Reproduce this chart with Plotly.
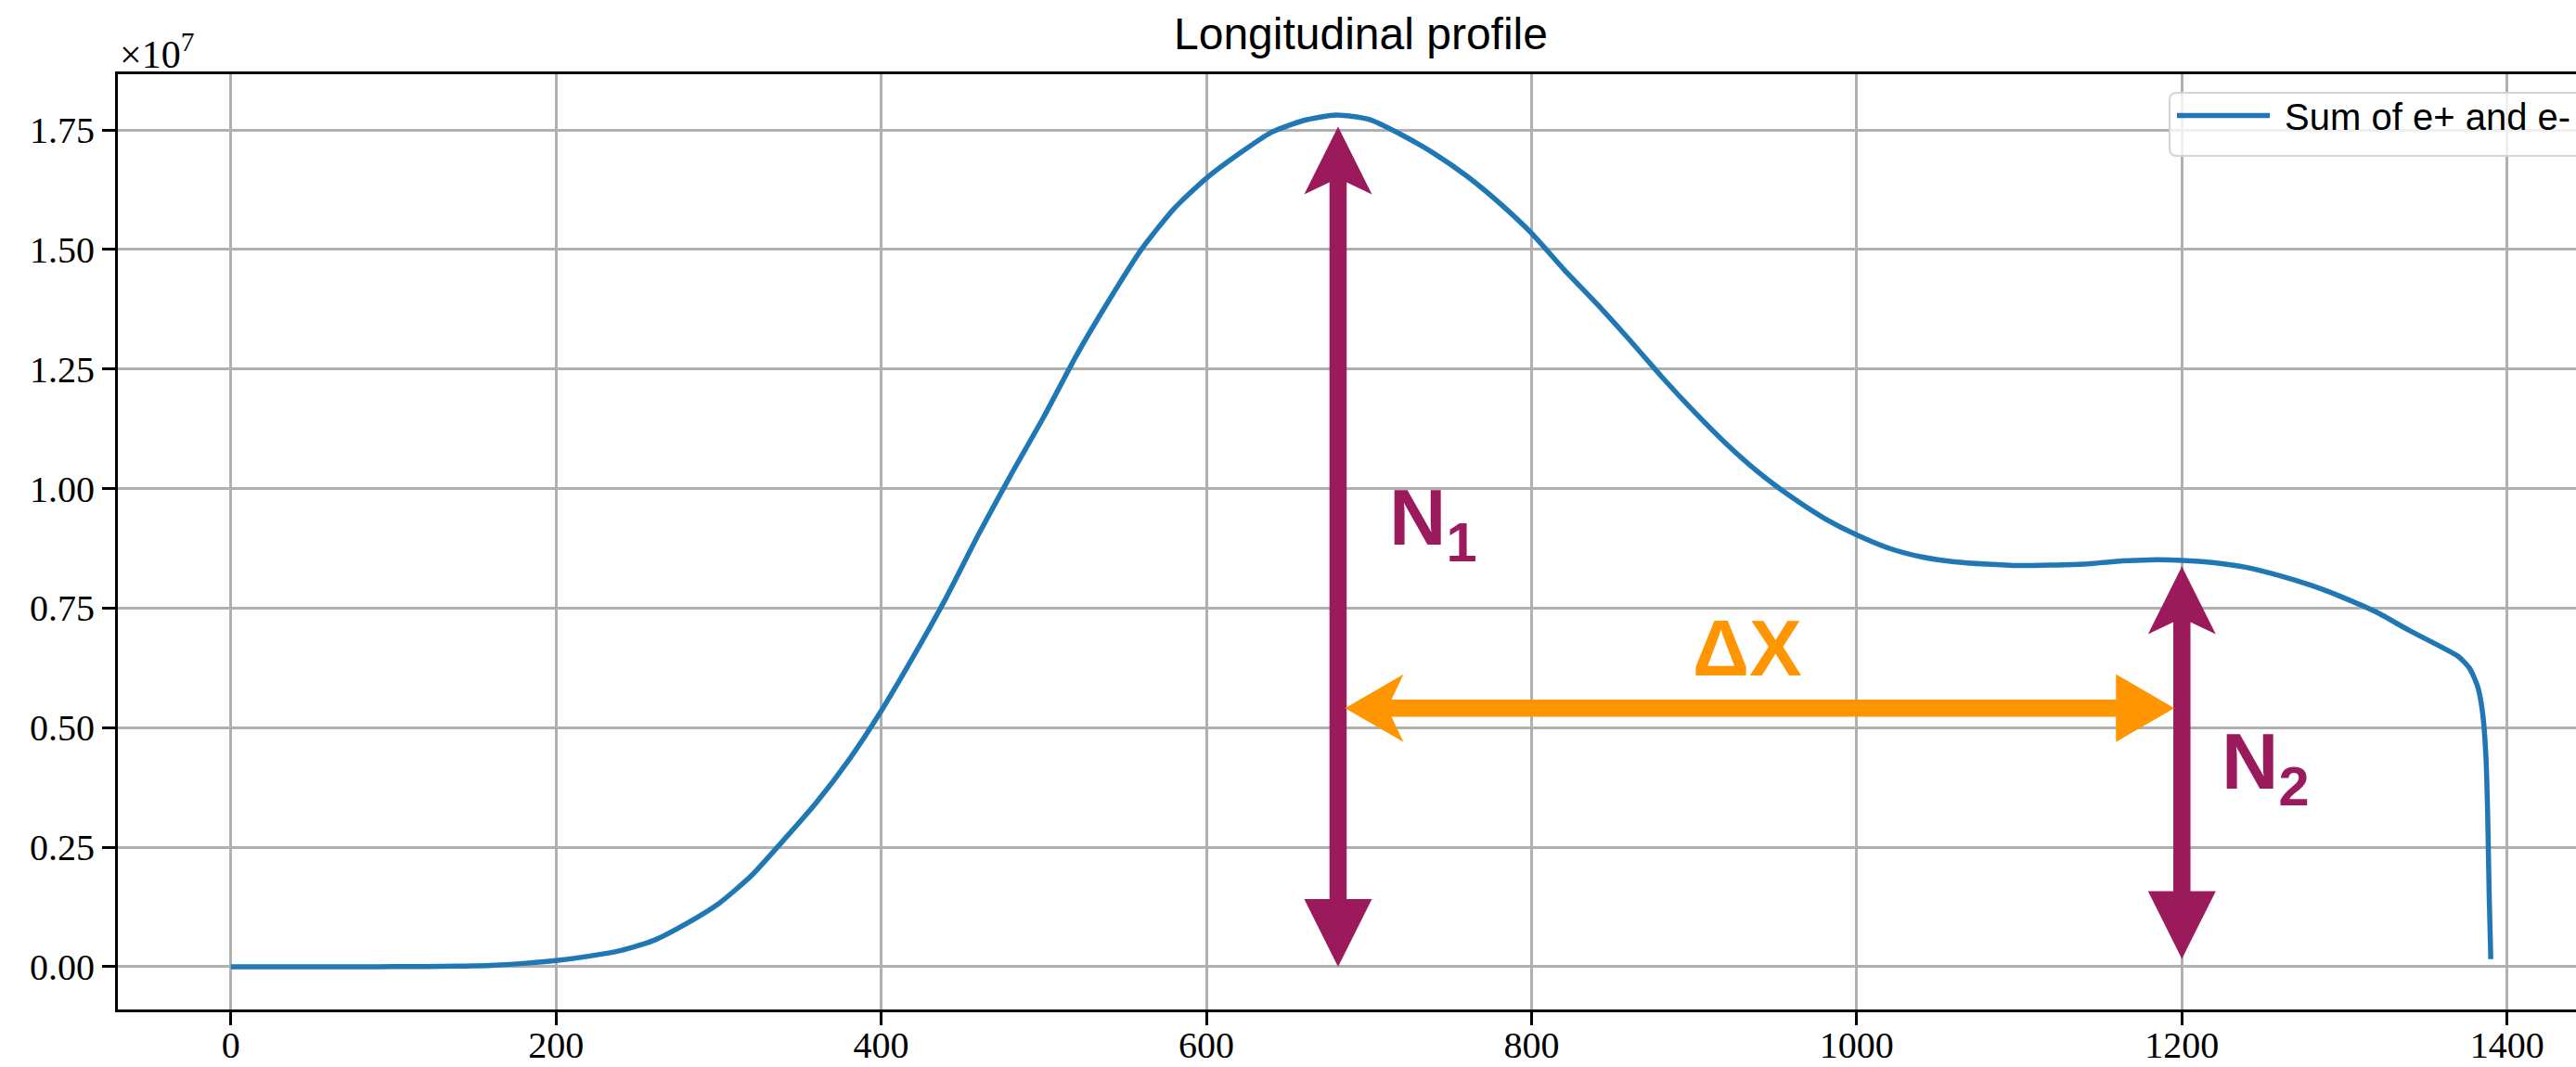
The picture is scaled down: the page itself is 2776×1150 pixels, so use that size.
import plotly.graph_objects as go

# ---- figure geometry (pixels) ----
FIG_W, FIG_H = 2776, 1150
MARGIN_L, MARGIN_R, MARGIN_T, MARGIN_B = 127, 0, 80, 62
PLOT_W = FIG_W - MARGIN_L - MARGIN_R
PLOT_H = FIG_H - MARGIN_T - MARGIN_B

Y_SCALE = 1e7  # values below are stored in units of 1e7 particles

# ---- longitudinal profile: depth vs number of e+ and e- (x 1e7) ----
depth = [0, 20, 40, 60, 80, 100, 120, 140, 160, 180,
         200, 220, 240, 260, 280, 300, 320, 340, 360, 380,
         400, 420, 440, 460, 480, 500, 520, 540, 560, 580,
         600, 620, 640, 660, 680, 700, 720, 740, 760, 780,
         800, 820, 840, 860, 880, 900, 920, 940, 960, 980,
         1000, 1020, 1040, 1060, 1080, 1100, 1120, 1140, 1160, 1180,
         1200, 1220, 1240, 1260, 1280, 1300, 1320, 1340, 1360, 1370,
         1377, 1382, 1385, 1387, 1388, 1389, 1390]
n_sum = [0.0000, 0.0000, 0.0000, 0.0000, 0.0001, 0.0002, 0.0005, 0.0012, 0.0030, 0.0070,
         0.0130, 0.0220, 0.0340, 0.0550, 0.0900, 0.1320, 0.1900, 0.2650, 0.3430, 0.4320,
         0.5350, 0.6500, 0.7720, 0.9050, 1.0300, 1.1500, 1.2780, 1.3930, 1.5000, 1.5850,
         1.6490, 1.7000, 1.7450, 1.7700, 1.7810, 1.7720, 1.7400, 1.7010, 1.6540, 1.5980,
         1.5340, 1.4580, 1.3870, 1.3120, 1.2340, 1.1610, 1.0930, 1.0330, 0.9820, 0.9380,
         0.9030, 0.8750, 0.8570, 0.8470, 0.8420, 0.8390, 0.8400, 0.8420, 0.8480, 0.8510,
         0.8500, 0.8450, 0.8350, 0.8180, 0.7970, 0.7710, 0.7410, 0.7030, 0.6680, 0.6490,
         0.6240, 0.5850, 0.5300, 0.4400, 0.3300, 0.1500, 0.0160]

# ---- axes ----
x_range = [-69.5, 1442.4]
y_range = [-0.0893, 1.8665]
x_ticks = [0, 200, 400, 600, 800, 1000, 1200, 1400]
y_ticks = [0.00, 0.25, 0.50, 0.75, 1.00, 1.25, 1.50, 1.75]
y_tick_text = [f"{v:.2f}" for v in y_ticks]

# ---- annotation arrows (tip positions, data units; y in 1e7) ----
n1_x, n1_y_bottom, n1_y_top = 681.0, 0.0, 1.757
n2_x, n2_y_bottom, n2_y_top = 1200.0, 0.0165, 0.837
dx_y, dx_x_left, dx_x_right = 0.541, 685.3, 1195.4

PURPLE = "#9a1a5c"
ORANGE = "#ff9500"
BLUE = "#1f77b4"

# pixel to data conversion factors
px_per_x = PLOT_W / (x_range[1] - x_range[0])
px_per_y = PLOT_H / ((y_range[1] - y_range[0]) * Y_SCALE)


def paper_x(px):
    return (px - MARGIN_L) / PLOT_W


def paper_y(py):
    return 1 - (py - MARGIN_T) / PLOT_H


# arrow head geometry (pixels)
HW = 36.5        # half width of head
SH = 9.25        # half width of shaft
V_LEN, V_JOIN = 73, 60
H_LEN, H_JOIN = 63, 50

fig = go.Figure()

fig.add_trace(go.Scatter(
    x=depth,
    y=[v * Y_SCALE for v in n_sum],
    mode="lines",
    line=dict(color=BLUE, width=5.5, shape="spline", smoothing=0.6),
    name="\u00a0Sum of e+ and e-",
    showlegend=True,
))

shapes = []

# legend frame (rounded, semi-transparent like a matplotlib legend)
bx0, bx1, by0, by1, r = 2338, 2800, 100, 168, 8
frame = (f"M{paper_x(bx0 + r)},{paper_y(by0)} L{paper_x(bx1 - r)},{paper_y(by0)} "
         f"Q{paper_x(bx1)},{paper_y(by0)} {paper_x(bx1)},{paper_y(by0 + r)} "
         f"L{paper_x(bx1)},{paper_y(by1 - r)} "
         f"Q{paper_x(bx1)},{paper_y(by1)} {paper_x(bx1 - r)},{paper_y(by1)} "
         f"L{paper_x(bx0 + r)},{paper_y(by1)} "
         f"Q{paper_x(bx0)},{paper_y(by1)} {paper_x(bx0)},{paper_y(by1 - r)} "
         f"L{paper_x(bx0)},{paper_y(by0 + r)} "
         f"Q{paper_x(bx0)},{paper_y(by0)} {paper_x(bx0 + r)},{paper_y(by0)} Z")
shapes.append(dict(type="path", xref="paper", yref="paper", path=frame,
                   fillcolor="rgba(255,255,255,0.8)",
                   line=dict(color="#d4d4d4", width=2), layer="above"))


def head(xa, ya, path, color):
    shapes.append(dict(type="path", xref="x", yref="y",
                       xsizemode="pixel", ysizemode="pixel",
                       xanchor=xa, yanchor=ya * Y_SCALE,
                       path=path, fillcolor=color, line=dict(width=0),
                       layer="above"))


def up_head(xa, ya, color):
    head(xa, ya, f"M0,0 L{HW},{-V_LEN} L{SH},{-V_JOIN} L{-SH},{-V_JOIN} L{-HW},{-V_LEN} Z", color)


def down_head(xa, ya, color):
    head(xa, ya, f"M0,0 L{HW},{V_LEN} L{-HW},{V_LEN} Z", color)


def left_head(xa, ya, color):
    head(xa, ya, f"M0,0 L{H_LEN},{HW} L{H_JOIN},{SH} L{H_JOIN},{-SH} L{H_LEN},{-HW} Z", color)


def right_head(xa, ya, color):
    head(xa, ya, f"M0,0 L{-H_LEN},{HW} L{-H_LEN},{-HW} Z", color)


def vertical_arrow(x, y_bot, y_top, color):
    y0 = y_bot * Y_SCALE + (V_LEN - 1) / px_per_y
    y1 = y_top * Y_SCALE - (V_JOIN - 1) / px_per_y
    shapes.append(dict(type="rect", xref="x", yref="y", xsizemode="pixel",
                       xanchor=x, x0=-SH, x1=SH, y0=y0, y1=y1,
                       fillcolor=color, line=dict(width=0), layer="above"))
    up_head(x, y_top, color)
    down_head(x, y_bot, color)


def horizontal_arrow(y, x_left, x_right, color):
    x0 = x_left + (H_JOIN - 1) / px_per_x
    x1 = x_right - (H_LEN - 1) / px_per_x
    shapes.append(dict(type="rect", xref="x", yref="y", ysizemode="pixel",
                       yanchor=y * Y_SCALE, y0=-SH, y1=SH, x0=x0, x1=x1,
                       fillcolor=color, line=dict(width=0), layer="above"))
    left_head(x_left, y, color)
    right_head(x_right, y, color)


vertical_arrow(n1_x, n1_y_bottom, n1_y_top, PURPLE)
vertical_arrow(n2_x, n2_y_bottom, n2_y_top, PURPLE)
horizontal_arrow(dx_y, dx_x_left, dx_x_right, ORANGE)

label_font = dict(family="Liberation Sans", size=85, color=PURPLE)
annotations = [
    dict(text="<b>N<sub>1</sub></b>", x=711, y=0.927 * Y_SCALE, xref="x", yref="y",
         xanchor="left", yanchor="middle", showarrow=False, font=label_font),
    dict(text="<b>N<sub>2</sub></b>", x=1223, y=0.4164 * Y_SCALE, xref="x", yref="y",
         xanchor="left", yanchor="middle", showarrow=False, font=label_font),
    dict(text="<b>ΔX</b>", x=933, y=0.667 * Y_SCALE, xref="x", yref="y",
         xanchor="center", yanchor="middle", showarrow=False,
         font=dict(family="Liberation Sans", size=85, color=ORANGE)),
    dict(text="×10<sup>7</sup>", x=0, y=paper_y(84), xref="paper", yref="paper",
         xanchor="left", yanchor="bottom", showarrow=False,
         font=dict(family="Liberation Serif", size=42, color="black")),
]

axis_common = dict(
    showline=True, linecolor="black", linewidth=3,
    ticks="outside", ticklen=14, tickwidth=3, tickcolor="black",
    showgrid=True, gridcolor="#b0b0b0", gridwidth=2.6,
    zeroline=False,
    tickfont=dict(family="Liberation Serif", size=40, color="black"),
)

fig.update_layout(
    width=FIG_W, height=FIG_H,
    margin=dict(l=MARGIN_L, r=MARGIN_R, t=MARGIN_T, b=MARGIN_B, autoexpand=False),
    paper_bgcolor="white", plot_bgcolor="white",
    title=dict(text="Longitudinal profile",
               font=dict(family="Liberation Sans", size=48, color="black"),
               x=paper_x(1466.5), xref="paper", xanchor="center",
               y=1 - 19 / FIG_H, yref="container", yanchor="top"),
    xaxis=dict(range=x_range, tickvals=x_ticks, mirror=True,
               ticklabelstandoff=-13, **axis_common),
    yaxis=dict(range=[v * Y_SCALE for v in y_range],
               tickvals=[v * Y_SCALE for v in y_ticks], ticktext=y_tick_text,
               mirror=False, **axis_common),
    legend=dict(x=paper_x(2341), xanchor="left",
                y=paper_y(92), yanchor="top",
                bgcolor="rgba(0,0,0,0)", borderwidth=0,
                font=dict(family="Liberation Sans", size=40, color="black"),
                itemwidth=100),
    shapes=shapes,
    annotations=annotations,
    showlegend=True,
)

fig.write_html("out.html")
